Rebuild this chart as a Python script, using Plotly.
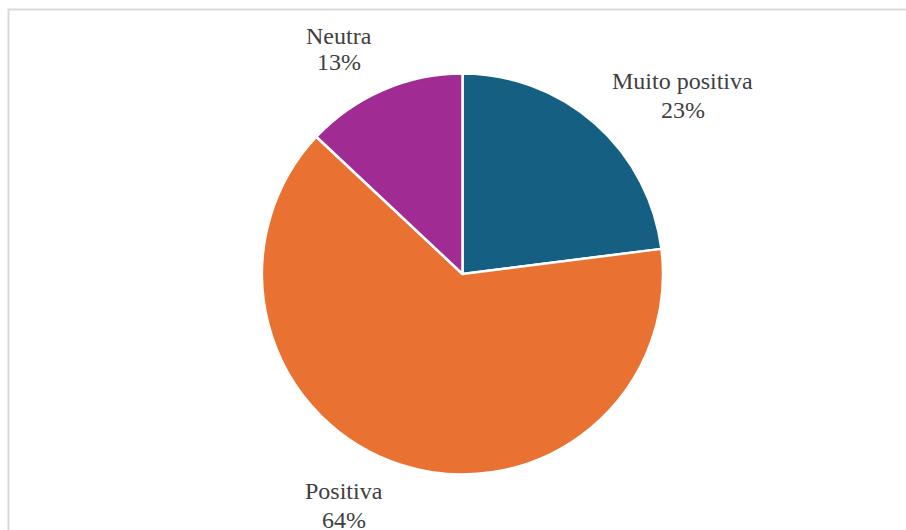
import plotly.graph_objects as go

# Distribuição das avaliações
categorias = ["Muito positiva", "Positiva", "Neutra"]
valores = [23, 64, 13]
cores = ["#156082", "#E97132", "#A02B93"]

# Posição (px) de cada rótulo: (x centro, y do nome, y da percentagem)
pos_rotulos = [(682.7, 81.0, 109.7), (344.0, 490.8, 519.5), (339.0, 36.3, 62.0)]

W, H = 906, 530
cx, cy, r = 462.5, 274.0, 200.5

fig = go.Figure(
    go.Pie(
        labels=categorias,
        values=valores,
        sort=False,
        direction="clockwise",
        rotation=0,
        marker=dict(colors=cores, line=dict(color="white", width=2.5)),
        textinfo="none",
        hoverinfo="label+percent",
        showlegend=False,
        domain=dict(x=[(cx - r) / W, (cx + r) / W], y=[1 - (cy + r) / H, 1 - (cy - r) / H]),
    )
)

total = sum(valores)
fonte = dict(family="Liberation Serif", size=24, color="#404040")
for nome, v, (x, y1, y2) in zip(categorias, valores, pos_rotulos):
    pct = f"{round(100 * v / total)}%"
    for texto, y in ((nome, y1), (pct, y2)):
        fig.add_annotation(
            x=x / W, y=1 - y / H, xref="paper", yref="paper",
            text=texto, showarrow=False, xanchor="center", yanchor="middle",
            font=fonte,
        )

# Moldura do gráfico
fig.add_shape(
    type="rect", xref="paper", yref="paper",
    x0=8.5 / W, y0=-0.02, x1=1.02, y1=1 - 9.5 / H,
    line=dict(color="#d9d9d9", width=2), fillcolor="rgba(0,0,0,0)",
)

fig.update_layout(
    width=W, height=H,
    margin=dict(l=0, r=0, t=0, b=0),
    paper_bgcolor="white", plot_bgcolor="white",
)

fig.write_html("out.html")
